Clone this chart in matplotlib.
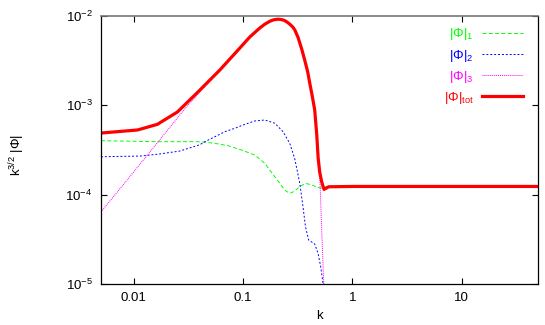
import numpy as np
import matplotlib
matplotlib.use("Agg")
import matplotlib.pyplot as plt
from matplotlib.ticker import NullLocator

plt.rcParams['font.family'] = ['Liberation Sans', 'DejaVu Sans']
plt.rcParams['mathtext.fontset'] = 'custom'
plt.rcParams['mathtext.rm'] = 'Liberation Sans'
plt.rcParams['mathtext.it'] = 'Liberation Sans:italic'
plt.rcParams['mathtext.bf'] = 'Liberation Sans:bold'

# values
k_phi1 = [0.005, 0.0173, 0.0402, 0.0551, 0.0729, 0.0967, 0.128, 0.158, 0.175, 0.216, 0.240,
          0.267, 0.297, 0.330, 0.374, 0.425, 0.482, 0.535, 0.58, 1.0, 10.0, 50.0]
phi1 = [3.99e-4, 3.89e-4, 3.89e-4, 3.73e-4, 3.51e-4, 3.14e-4, 2.76e-4, 2.23e-4, 1.88e-4, 1.34e-4, 1.12e-4,
        1.03e-4, 1.09e-4, 1.23e-4, 1.33e-4, 1.28e-4, 1.20e-4, 1.17e-4, 1.23e-4, 1.23e-4, 1.23e-4, 1.23e-4]

k_phi2 = [0.005, 0.0115, 0.0173, 0.0264, 0.0402, 0.0447, 0.0551, 0.068, 0.0839, 0.1035, 0.128,
          0.158, 0.195, 0.232, 0.267, 0.297, 0.330, 0.353, 0.372, 0.398, 0.452, 0.485, 0.513,
          0.538, 0.552]
phi2 = [2.64e-4, 2.69e-4, 2.84e-4, 3.06e-4, 3.6e-4, 3.89e-4, 4.42e-4, 5.03e-4, 5.49e-4, 6.08e-4, 6.63e-4,
        6.80e-4, 6.25e-4, 5.03e-4, 3.73e-4, 2.5e-4, 1.33e-4, 7.31e-5, 4.37e-5, 3.10e-5, 2.80e-5, 2.20e-5,
        1.56e-5, 1.02e-5, 8.0e-6]

k_phi3 = [0.005, 0.01, 0.02, 0.03, 0.0402, 0.0612, 0.0933, 0.115, 0.142, 0.158, 0.175, 0.19,
          0.209, 0.225, 0.236, 0.249, 0.267, 0.283, 0.297, 0.318, 0.344, 0.366, 0.390, 0.407,
          0.429, 0.452, 0.472, 0.486, 0.502, 0.521, 0.550]
phi3 = [6.4e-5, 1.8e-4, 5.1e-4, 9.4e-4, 1.4e-3, 2.42e-3, 4.3e-3, 5.7e-3, 7.2e-3, 8.0e-3, 8.6e-3, 8.95e-3,
        9.1e-3, 9.0e-3, 8.85e-3, 8.55e-3, 8.0e-3, 7.5e-3, 6.9e-3, 5.7e-3, 4.2e-3, 3.18e-3, 2.34e-3, 1.76e-3,
        1.26e-3, 8.8e-4, 4.6e-4, 2.5e-4, 1.74e-4, 4.77e-5, 8.6e-6]

k_tot = [0.005, 0.0108, 0.0164, 0.0250, 0.0375, 0.0402, 0.0612, 0.0933, 0.115, 0.142, 0.158,
         0.175, 0.19, 0.209, 0.225, 0.236, 0.249, 0.267, 0.283, 0.297, 0.318, 0.344, 0.366,
         0.390, 0.407, 0.429, 0.452, 0.472, 0.486, 0.502, 0.524, 0.550, 0.607, 1.0, 10.0, 50.0]
phi_tot = [4.86e-4, 5.26e-4, 6.08e-4, 8.35e-4, 1.35e-3, 1.47e-3, 2.46e-3, 4.33e-3, 5.75e-3, 7.25e-3, 8.0e-3,
           8.6e-3, 8.95e-3, 9.1e-3, 9.0e-3, 8.85e-3, 8.55e-3, 8.0e-3, 7.5e-3, 6.9e-3, 5.7e-3, 4.2e-3, 3.18e-3,
           2.34e-3, 1.76e-3, 1.26e-3, 8.8e-4, 4.62e-4, 2.56e-4, 1.78e-4, 1.38e-4, 1.14e-4, 1.22e-4,
           1.23e-4, 1.23e-4, 1.23e-4]

xtick_vals = [0.01, 0.1, 1, 10]
xtick_labels = ["0.01", "0.1", "1", "10"]

# set figure parameters
fig = plt.figure(figsize=(5.45, 3.25), dpi=100)
axs = fig.add_axes([101/545, 41/325, 437/545, 268.5/325])

axs.plot(k_phi1, phi1, color='#00ff00', lw=0.7, dashes=(4, 2.5), label='|Φ|$_1$')
axs.plot(k_phi2, phi2, color='#0000ff', lw=0.7, dashes=(2, 2), label='|Φ|$_2$')
axs.plot(k_phi3, phi3, color='#ff00ff', lw=0.7, dashes=(1, 1), label='|Φ|$_3$')
axs.plot(k_tot, phi_tot, color='#ff0000', lw=2.3, label='|Φ|$_{\\mathrm{tot}}$')

axs.set_xscale('log')
axs.set_yscale('log')
axs.set_xlim(0.005, 50)
axs.set_ylim(1e-5, 1e-2)

axs.set_xticks(xtick_vals)
axs.set_xticklabels(xtick_labels)
axs.xaxis.set_minor_locator(NullLocator())
axs.yaxis.set_minor_locator(NullLocator())
axs.tick_params(which='major', direction='in', top=True, right=True, length=4.5, width=0.8,
                labelsize=9.5, pad=6)

for s in ['left', 'right', 'bottom']:
    axs.spines[s].set_linewidth(0.9)
axs.spines['top'].set_color('#777777')
axs.spines['top'].set_linewidth(1.2)

axs.set_xlabel("k", fontsize=9.5, labelpad=4)
axs.set_ylabel("k$^{3/2}$ |Φ|", fontsize=9.5)
axs.yaxis.set_label_coords(-0.17, 0.48)

# add legend
axs.legend(loc='upper right', bbox_to_anchor=(523/545, 1 - 26.5/325), bbox_transform=fig.transFigure,
           frameon=False, markerfirst=False, labelcolor='linecolor', fontsize=9.5,
           handlelength=3.1, handletextpad=0.65, labelspacing=0.38, borderpad=0, borderaxespad=0)

plt.savefig("out.png", dpi=100)
